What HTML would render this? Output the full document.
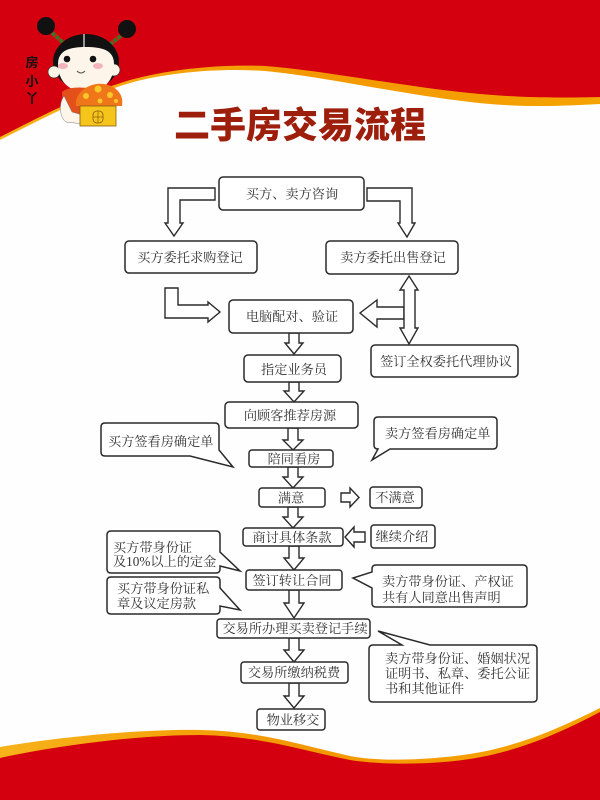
<!DOCTYPE html>
<html><head><meta charset="utf-8"><style>
html,body{margin:0;padding:0;background:#fff;}
svg{display:block;}
.bx{fill:#fff;stroke:#2a2a2a;stroke-width:1.5;}
.ar{fill:#fff;stroke:#2a2a2a;stroke-width:1.4;stroke-linejoin:miter;}
.t{font-family:"Liberation Serif","Noto Serif CJK SC","Noto Sans CJK SC",serif;font-size:13.2px;fill:#333;}
.c{text-anchor:middle;}
</style></head><body>
<svg width="600" height="800" viewBox="0 0 600 800" xmlns="http://www.w3.org/2000/svg">
<defs>
<linearGradient id="og" x1="0" y1="0" x2="1" y2="0">
<stop offset="0" stop-color="#f7b21a"/><stop offset="0.5" stop-color="#f39800"/><stop offset="1" stop-color="#f5a300"/>
</linearGradient>
</defs>
<rect width="600" height="800" fill="#fefefe"/>
<!-- top band -->
<path d="M0,140 C40,120 80,98 130,83 C170,72 220,68 265,71 C320,76 400,94 470,102 C520,108 560,106 600,104 V0 H0 Z" fill="url(#og)"/>
<path d="M0,137 C40,117 80,95 130,80 C170,69 220,64 265,66 C320,70 400,86 470,93 C520,98 560,98 600,97 V0 H0 Z" fill="#d5000f"/>
<!-- bottom band -->
<path d="M0,747 C60,737 140,729 200,730 C260,731 300,745 350,756 C380,762 430,760 470,754 C520,746 560,728 600,708 V800 H0 Z" fill="url(#og)"/>
<path d="M0,758 C60,745 140,735 200,735 C260,736 300,750 350,760 C380,765 430,765 470,759 C520,751 560,733 600,712 V800 H0 Z" fill="#d5000f"/>

<!-- girl -->
<g>
<line x1="51" y1="32" x2="66" y2="45" stroke="#2f7a25" stroke-width="4"/>
<line x1="51" y1="32" x2="66" y2="45" stroke="#c0281a" stroke-width="4" stroke-dasharray="2 3"/>
<line x1="122" y1="35" x2="108" y2="46" stroke="#2f7a25" stroke-width="4"/>
<line x1="122" y1="35" x2="108" y2="46" stroke="#c0281a" stroke-width="4" stroke-dasharray="2 3"/>
<circle cx="46" cy="26" r="9" fill="#111"/>
<circle cx="127" cy="29" r="9" fill="#111"/>
<ellipse cx="86" cy="62" rx="33" ry="28" fill="#111"/>
<circle cx="54" cy="72" r="6" fill="#fdf3e6" stroke="#333" stroke-width="0.7"/>
<circle cx="114" cy="70" r="6" fill="#fdf3e6" stroke="#333" stroke-width="0.7"/>
<path d="M58,64 C58,50 70,47 86,47 C102,47 114,50 114,64 C114,82 102,92 86,92 C70,92 58,82 58,64 Z" fill="#fdf5ea"/>
<line x1="84" y1="34" x2="84" y2="47" stroke="#eee" stroke-width="1.2"/>
<circle cx="67" cy="59" r="3.3" fill="#111"/>
<circle cx="93" cy="59" r="3.3" fill="#111"/>
<ellipse cx="63" cy="66" rx="5" ry="3" fill="#f4b3bb"/>
<ellipse cx="98" cy="66" rx="5" ry="3" fill="#f4b3bb"/>
<path d="M77,71 Q81,75 85,71" stroke="#555" stroke-width="1" fill="none"/>
<rect x="79" y="86" width="12" height="8" fill="#fdf3e6"/>
<path d="M62,92 C68,86 90,86 98,92 L100,116 L64,116 Z" fill="#e4501a"/>
<path d="M64,96 C58,104 60,118 66,122 L84,124 L86,116 L72,112 Z" fill="#fdf5ea" stroke="#777" stroke-width="0.5"/>
<path d="M76,106 C74,92 90,82 104,84 C116,86 124,94 122,106 Z" fill="#f0761a"/>
<circle cx="86" cy="96" r="3" fill="#f8c82a"/><circle cx="98" cy="89" r="3.5" fill="#f8c82a"/>
<circle cx="110" cy="95" r="3" fill="#f8c82a"/><circle cx="100" cy="101" r="2.5" fill="#f8c82a"/>
<circle cx="116" cy="101" r="2" fill="#f8c82a"/>
<rect x="80" y="106" width="36" height="20" fill="#f5c51c" stroke="#8a5a10" stroke-width="0.8"/>
<rect x="93" y="111" width="10" height="12" rx="4" fill="#f5c51c" stroke="#8a5a10" stroke-width="0.8"/>
<line x1="98" y1="111" x2="98" y2="123" stroke="#8a5a10" stroke-width="0.7"/>
<line x1="93" y1="117" x2="103" y2="117" stroke="#8a5a10" stroke-width="0.7"/>
</g>
<g style="font-family:'Liberation Sans','Noto Sans CJK SC',sans-serif;font-size:13px;font-weight:bold;fill:#111" text-anchor="middle">
<text x="32" y="67">房</text><text x="32" y="86">小</text><text x="32" y="103">丫</text>
</g>

<!-- title -->
<text x="300" y="137.5" text-anchor="middle" style="font-family:'Liberation Sans','Noto Sans CJK SC',sans-serif;font-size:36px;font-weight:900;fill:#9e1e0c">二手房交易流程</text>

<!-- arrows -->
<polygon class="ar" points="215,188 168,188 168,223 165,223 174,236 183,223 180,223 180,200 215,200"/>
<polygon class="ar" points="367,188 412,188 412,223 415,223 407,237 398,223 400,223 400,201 367,201"/>
<polygon class="ar" points="165,288 178,288 178,305 208,305 208,302 220,312 208,322 208,318 165,318"/>
<polygon class="ar" points="404,307 377,307 377,300 360,313 377,327 377,319 404,319"/>
<polygon class="ar" points="409,276 418,290 415,290 415,328 418,328 409,344 400,328 404,328 404,290 400,290"/>

<polygon class="ar" points="289,333 299,333 299,343 303,343 294,354 285,343 289,343"/>
<polygon class="ar" points="289,382 299,382 299,391 304,391 294,402 284,391 289,391"/>
<polygon class="ar" points="288,428 298,428 298,440 303,440 293,450 283,440 288,440"/>
<polygon class="ar" points="288,467 298,467 298,477 303,477 293,488 283,477 288,477"/>
<polygon class="ar" points="288,507 298,507 298,517 303,517 293,528 283,517 288,517"/>
<polygon class="ar" points="289,546 299,546 299,558 304,558 294,570 284,558 289,558"/>
<polygon class="ar" points="289,590 299,590 299,603 304,603 294,618 284,603 289,603"/>
<polygon class="ar" points="289,638 299,638 299,650 304,650 294,662 284,650 289,650"/>
<polygon class="ar" points="289,683 299,683 299,696 304,696 294,708 284,696 289,696"/>
<polygon class="ar" points="341,493 350,493 350,488 359,497.5 350,507 350,502 341,502"/>
<polygon class="ar" points="365,532 354,532 354,527 345,537 354,547 354,542 365,542"/>

<!-- boxes -->
<rect class="bx" x="219" y="177" width="145" height="33" rx="4"/>
<rect class="bx" x="125" y="241" width="132" height="32" rx="4"/>
<rect class="bx" x="326" y="241" width="132" height="33" rx="4"/>
<rect class="bx" x="229" y="300" width="124" height="33" rx="4"/>
<rect class="bx" x="244" y="355" width="97" height="27" rx="4"/>
<rect class="bx" x="371" y="345" width="147" height="32" rx="4"/>
<rect class="bx" x="225" y="402" width="133" height="26" rx="4"/>
<rect class="bx" x="249" y="450" width="84" height="17" rx="3"/>
<rect class="bx" x="259" y="488" width="66" height="19" rx="3"/>
<rect class="bx" x="370" y="487" width="52" height="21" rx="3"/>
<rect class="bx" x="243" y="528" width="100" height="18" rx="3"/>
<rect class="bx" x="371" y="525" width="64" height="23" rx="3"/>
<rect class="bx" x="246" y="570" width="96" height="20" rx="3"/>
<rect class="bx" x="217" y="619" width="153" height="19" rx="3"/>
<rect class="bx" x="241" y="662" width="107" height="21" rx="3"/>
<rect class="bx" x="257" y="709" width="68" height="21" rx="3"/>

<!-- callouts -->
<path class="bx" d="M105,423 H215 Q219,423 219,427 V450 L233,467 L190,456 H105 Q101,456 101,452 V427 Q101,423 105,423 Z"/>
<path class="bx" d="M378,417 H493 Q497,417 497,421 V445 Q497,449 493,449 H390 L372,460 L378,449 Q374,449 374,445 V421 Q374,417 378,417 Z"/>
<path class="bx" d="M111,531 H216 Q220,531 220,535 V552 L240,571 L220,566 V569 Q220,573 216,573 H111 Q107,573 107,569 V535 Q107,531 111,531 Z"/>
<path class="bx" d="M111,577 H216 Q220,577 220,581 V588 L240,610 L220,606 V610 Q220,614 216,614 H111 Q107,614 107,610 V581 Q107,577 111,577 Z"/>
<path class="bx" d="M376,565 H523 Q527,565 527,569 V603 Q527,607 523,607 H376 Q372,607 372,603 V588 L353,578 L372,572 V569 Q372,565 376,565 Z"/>
<path class="bx" d="M373,645 H402 L378,631 L430,645 H533 Q537,645 537,649 V698 Q537,702 533,702 H373 Q369,702 369,698 V649 Q369,645 373,645 Z"/>

<!-- text -->
<g class="t">
<text class="c" x="292" y="198.5">买方、卖方咨询</text>
<text class="c" x="190" y="261.8">买方委托求购登记</text>
<text class="c" x="393" y="262">卖方委托出售登记</text>
<text class="c" x="292" y="321">电脑配对、验证</text>
<text class="c" x="294" y="373.8">指定业务员</text>
<text class="c" x="446" y="365.8">签订全权委托代理协议</text>
<text class="c" x="290" y="419.8">向顾客推荐房源</text>
<text class="c" x="294" y="463.6">陪同看房</text>
<text class="c" x="291" y="502.6">满意</text>
<text class="c" x="395" y="501.8">不满意</text>
<text class="c" x="292" y="541.8">商讨具体条款</text>
<text class="c" x="402" y="540.8">继续介绍</text>
<text class="c" x="292" y="584.8">签订转让合同</text>
<text class="c" x="295" y="632.8">交易所办理买卖登记手续</text>
<text class="c" x="294" y="676.8">交易所缴纳税费</text>
<text class="c" x="293" y="724.6">物业移交</text>

<text x="108" y="445.8">买方签看房确定单</text>
<text x="385" y="437.8">卖方签看房确定单</text>
<text x="113" y="551.8">买方带身份证</text>
<text x="113" y="565.8">及10%以上的定金</text>
<text x="117" y="592.8">买方带身份证私</text>
<text x="117" y="607.8">章及议定房款</text>
<text x="382" y="585.8">卖方带身份证、产权证</text>
<text x="382" y="601.8">共有人同意出售声明</text>
<text x="385" y="662.8">卖方带身份证、婚姻状况</text>
<text x="385" y="677.8">证明书、私章、委托公证</text>
<text x="385" y="692.8">书和其他证件</text>
</g>
</svg>
</body></html>
